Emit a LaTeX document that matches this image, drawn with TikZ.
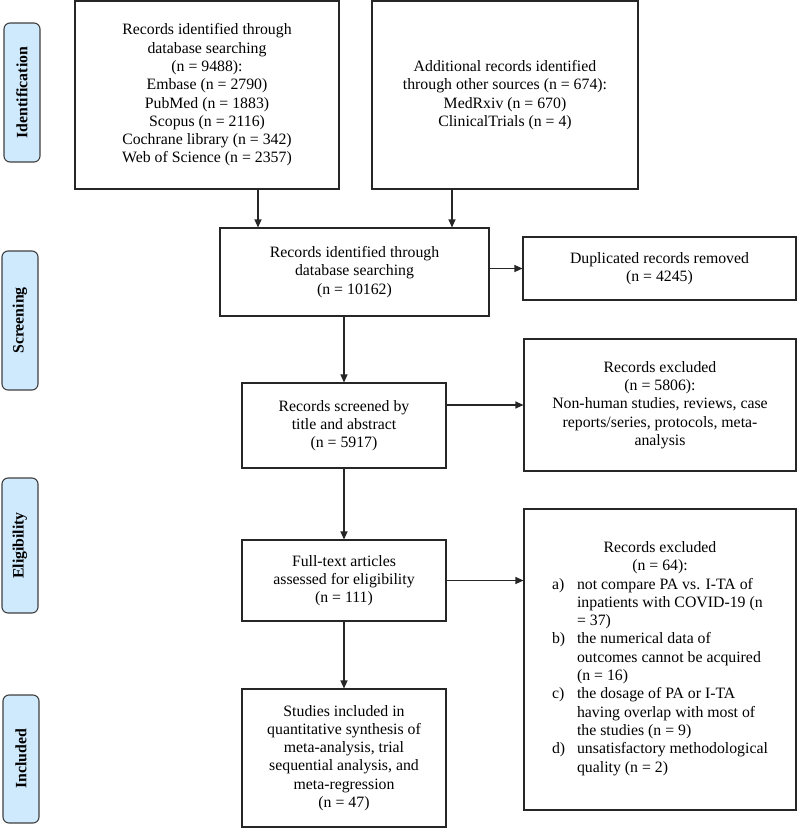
\documentclass[tikz,border=0pt]{standalone}
\usepackage{fontspec}
\setmainfont{Liberation Serif}
\usetikzlibrary{arrows.meta}

\definecolor{phasefill}{RGB}{207,233,253}
\definecolor{phaseline}{RGB}{64,64,64}

\tikzset{
  box/.style={draw=black!85, line width=1.1pt, align=center, inner sep=0pt,
    font=\fontsize{15.8}{18.3}\selectfont},
  phase/.style={draw=phaseline, fill=phasefill, line width=1.1pt, rounded corners=6pt,
    rotate=90, minimum width=139pt, minimum height=36pt, inner sep=0pt,
    font=\bfseries\fontsize{15.8}{18.3}\selectfont},
  arr/.style={-{Triangle[length=8pt,width=7pt]}, line width=1.1pt, draw=black!85},
}

\begin{document}
\begin{tikzpicture}[x=1pt, y=-1pt]

  \useasboundingbox (0,0) rectangle (800,833);

  % Define nodes
  \node[phase] (identification) at (22,92.5) {Identification};
  \node[phase] (screening) at (20,320.5) {Screening};
  \node[phase, minimum width=135pt] (eligibility) at (20,545.5) {Eligibility};
  \node[phase, minimum width=128pt] (includedphase) at (21,759) {Included};

  \node[box, minimum width=264pt, minimum height=188pt] (dbsearch) at (207,95)
    {Records identified through\\database searching\\(n = 9488):\\Embase (n = 2790)\\PubMed (n = 1883)\\Scopus (n = 2116)\\Cochrane library (n = 342)\\Web of Science (n = 2357)};
  \node[box, minimum width=266pt, minimum height=188pt] (other) at (505,95)
    {Additional records identified\\through other sources (n = 674):\\MedRxiv (n = 670)\\ClinicalTrials (n = 4)};
  \node[box, minimum width=269pt, minimum height=88pt] (identified) at (354.5,272)
    {Records identified through\\database searching\\(n = 10162)};
  \node[box, minimum width=273pt, minimum height=63pt] (dup) at (659.5,268.5)
    {Duplicated records removed\\(n = 4245)};
  \node[box, minimum width=204pt, minimum height=85pt] (screened) at (344,425.5)
    {Records screened by\\title and abstract\\(n = 5917)};
  \node[box, minimum width=272pt, minimum height=132pt] (excl1) at (660,405)
    {Records excluded\\(n = 5806):\\Non-human studies, reviews, case\\reports/series, protocols, meta-\\analysis};
  \node[box, minimum width=204pt, minimum height=81pt] (fulltext) at (344,580.5)
    {Full-text articles\\assessed for eligibility\\(n = 111)};
  \node[box, minimum width=272pt, minimum height=301pt] (excl2) at (660,659.5)
    {Records excluded\\(n = 64):\\
     \begin{tabular}[t]{@{}p{25pt}@{}l@{}}
       a) & not compare PA vs. I-TA of\\
          & inpatients with COVID-19 (n\\
          & = 37)\\
       b) & the numerical data of\\
          & outcomes cannot be acquired\\
          & (n = 16)\\
       c) & the dosage of PA or I-TA\\
          & having overlap with most of\\
          & the studies (n = 9)\\
       d) & unsatisfactory methodological\\
          & quality (n = 2)
     \end{tabular}};
  \node[box, minimum width=204pt, minimum height=138pt] (included) at (344,758)
    {Studies included in\\quantitative synthesis of\\meta-analysis, trial\\sequential analysis, and\\meta-regression\\(n = 47)};

  % Connect the nodes
  \draw[arr] ([xshift=51pt]dbsearch.south) -- ([xshift=51pt]dbsearch.south |- identified.north);
  \draw[arr] ([xshift=-53pt]other.south) -- ([xshift=-53pt]other.south |- identified.north);
  \draw[arr] (identified.east |- dup.west) -- (dup.west);
  \draw[arr] (identified.south -| screened.north) -- (screened.north);
  \draw[arr] (screened.east |- excl1.west) -- (excl1.west);
  \draw[arr] (screened.south) -- (fulltext.north);
  \draw[arr] (fulltext.east) -- (fulltext.east -| excl2.west);
  \draw[arr] (fulltext.south) -- (included.north);

\end{tikzpicture}
\end{document}
